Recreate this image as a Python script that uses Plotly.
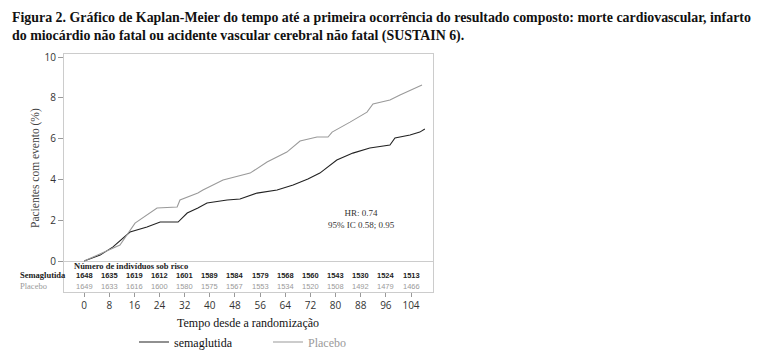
import plotly.graph_objects as go

# Kaplan-Meier curves (weeks, % with event)
sema_weeks = [0, 5.1, 9.2, 14.6, 20.0, 24.2, 29.9, 32.8, 36.2, 39.1, 45.5, 49.6, 55.0,
              61.4, 66.5, 71.2, 75.0, 80.4, 85.5, 90.9, 97.3, 98.9, 103.7, 106.8, 108.4]
sema_pct = [0, 0.29, 0.69, 1.42, 1.67, 1.91, 1.91, 2.35, 2.60, 2.84, 2.99, 3.04, 3.33,
            3.48, 3.73, 4.02, 4.31, 4.95, 5.29, 5.54, 5.69, 6.03, 6.18, 6.32, 6.47]
plac_weeks = [0, 5.1, 11.4, 16.2, 20.0, 23.2, 29.6, 30.5, 36.2, 37.8, 44.2, 52.8, 58.2,
              64.5, 68.7, 74.1, 77.6, 78.9, 84.6, 90.0, 91.9, 97.3, 100.5, 107.5]
plac_pct = [0, 0.34, 0.78, 1.86, 2.25, 2.60, 2.65, 2.99, 3.33, 3.48, 3.97, 4.31, 4.85,
            5.34, 5.88, 6.08, 6.08, 6.32, 6.81, 7.30, 7.70, 7.89, 8.14, 8.63]

# Number at risk table
risk_weeks = [0, 8, 16, 24, 32, 40, 48, 56, 64, 72, 80, 88, 96, 104]
risk_sema = [1648, 1635, 1619, 1612, 1601, 1589, 1584, 1579, 1568, 1560, 1543, 1530, 1524, 1513]
risk_plac = [1649, 1633, 1616, 1600, 1580, 1575, 1567, 1553, 1534, 1520, 1508, 1492, 1479, 1466]

x_ticks = [0, 8, 16, 24, 32, 40, 48, 56, 64, 72, 80, 88, 96, 104]
y_ticks = [0, 2, 4, 6, 8, 10]

SERIF = "Liberation Serif"
SANS = "Open Sans"
DARK = "#222222"
GRAY = "#9a9a9a"

# page body margin offset (8px) -> figure coordinates = screen - OFF
OFF = 8
W, H = 760 - OFF, 358 - OFF
# plot-area geometry in screen pixels
L, R, T, B = 64, 433, 54, 292
PW, PH = R - L, B - T


def px_x(p):
    return (p - L) / PW


def px_y(p):
    return (B - p) / PH


fig = go.Figure()
fig.add_trace(go.Scatter(x=sema_weeks, y=sema_pct, mode="lines",
                         line=dict(color=DARK, width=1.1), name="semaglutida"))
fig.add_trace(go.Scatter(x=plac_weeks, y=plac_pct, mode="lines",
                         line=dict(color=GRAY, width=1.1),
                         name='<span style="color:#9a9a9a">Placebo</span>'))

ann = []
ann.append(dict(x=px_x(10), y=px_y(8), xref="paper", yref="paper",
                text="<b>Figura 2. Gráfico de Kaplan-Meier do tempo até a primeira ocorrência do resultado composto: morte cardiovascular, infarto<br>do miocárdio não fatal ou acidente vascular cerebral não fatal (SUSTAIN 6).</b>",
                showarrow=False, xanchor="left", yanchor="top", align="left",
                font=dict(family=SERIF, size=13.9, color="#111111")))
ann.append(dict(x=px_x(35), y=px_y(168), xref="paper", yref="paper", text="Pacientes com evento (%)",
                textangle=-90, showarrow=False, xanchor="center", yanchor="middle",
                font=dict(family=SERIF, size=11.5, color="#444444")))
ann.append(dict(x=px_x(248), y=px_y(323), xref="paper", yref="paper", text="Tempo desde a randomização",
                showarrow=False, xanchor="center", yanchor="middle",
                font=dict(family=SERIF, size=12, color="#111111")))
ann.append(dict(x=-3.8, y=-0.25, xref="x", yref="y", text="<b>Número de indivíduos sob risco</b>",
                showarrow=False, xanchor="left", yanchor="middle",
                font=dict(family=SERIF, size=8.5, color=DARK)))
for w, s, p in zip(risk_weeks, risk_sema, risk_plac):
    ann.append(dict(x=w, y=-0.69, xref="x", yref="y", text="<b>%d</b>" % s, showarrow=False,
                    font=dict(family="Liberation Sans", size=7.5, color=DARK)))
    ann.append(dict(x=w, y=-1.23, xref="x", yref="y", text="%d" % p, showarrow=False,
                    font=dict(family="Liberation Sans", size=7.5, color=GRAY)))
ann.append(dict(x=px_x(18), y=-0.69, xref="paper", yref="y", text="<b>Semaglutida</b>",
                showarrow=False, xanchor="left", font=dict(family=SERIF, size=8.5, color=DARK)))
ann.append(dict(x=px_x(18), y=-1.23, xref="paper", yref="y", text="Placebo",
                showarrow=False, xanchor="left", font=dict(family=SERIF, size=8.5, color=GRAY)))
ann.append(dict(x=88.4, y=2.08, xref="x", yref="y", text="HR: 0.74<br>95% IC 0.58; 0.95",
                showarrow=False, align="center", font=dict(family=SERIF, size=9, color="#333333")))

fig.update_layout(
    width=W, height=H,
    margin=dict(l=L - OFF, r=760 - R, t=T - OFF, b=358 - B, autoexpand=False),
    paper_bgcolor="white", plot_bgcolor="white",
    xaxis=dict(range=[-6.4, 111], tickvals=x_ticks, ticks="outside", ticklen=4, tickcolor="#999",
               showgrid=False, zeroline=False, showline=True, mirror=True, linecolor="#cccccc",
               linewidth=1, automargin=False, tickfont=dict(family=SANS, size=10, color="#333333")),
    yaxis=dict(range=[-1.52, 10.15], tickvals=y_ticks, ticks="outside", ticklen=5, tickcolor="#999",
               showgrid=False, zeroline=True, zerolinecolor="#cccccc", zerolinewidth=1,
               showline=True, mirror=True, linecolor="#cccccc", linewidth=1, automargin=False,
               tickfont=dict(family=SANS, size=10, color="#333333")),
    showlegend=True,
    legend=dict(orientation="h", x=px_x(134), xanchor="left", y=px_y(342), yanchor="middle",
                font=dict(family=SERIF, size=12, color="#111111"),
                entrywidth=89, entrywidthmode="pixels", bgcolor="rgba(0,0,0,0)"),
    annotations=ann,
)

fig.write_html("out.html")
